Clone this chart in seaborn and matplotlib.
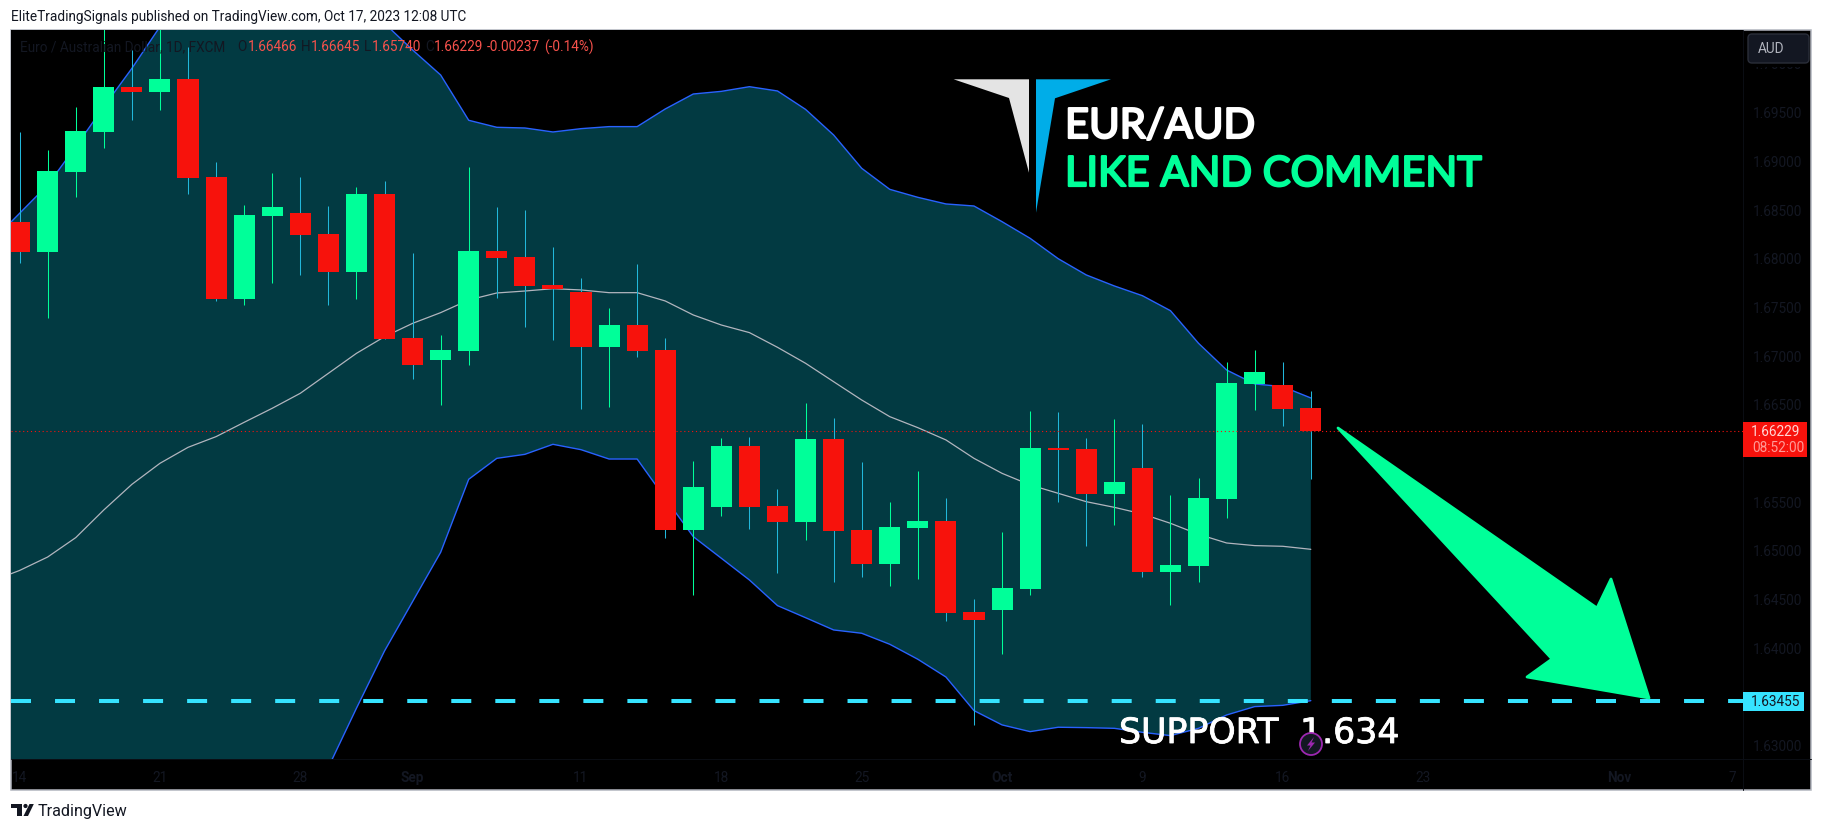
import numpy as np, pandas as pd
import matplotlib
matplotlib.use("Agg")
import matplotlib.pyplot as plt
import matplotlib.patheffects as pe
from matplotlib.patches import Polygon, Rectangle, FancyBboxPatch, Circle
from matplotlib.transforms import Affine2D
import seaborn as sns

sns.set_theme(style="dark")
plt.rcParams['font.family'] = ['Roboto', 'DejaVu Sans']
plt.rcParams['lines.scale_dashes'] = False

opens = [1.68378,1.68073,1.68891,1.69302,1.69764,1.69712,1.69846,1.68840,1.67587,1.68439,1.68470,1.68255,1.67864,1.68665,1.67187,1.66961,1.67053,1.68080,1.68018,1.67731,1.67659,1.67094,1.67320,1.67064,1.65216,1.65452,1.66078,1.65462,1.65298,1.66150,1.65216,1.64867,1.65236,1.65308,1.64374,1.64394,1.64610,1.66057,1.66047,1.65585,1.65852,1.64784,1.64846,1.65534,1.66715,1.66704,1.66466]
closes = [1.68073,1.68901,1.69312,1.69764,1.69712,1.69846,1.68829,1.67587,1.68450,1.68532,1.68244,1.67864,1.68665,1.67177,1.66910,1.67064,1.68080,1.68008,1.67721,1.67690,1.67094,1.67320,1.67053,1.65216,1.65657,1.66078,1.65452,1.65298,1.66150,1.65205,1.64867,1.65246,1.65308,1.64363,1.64292,1.64620,1.66057,1.66037,1.65585,1.65708,1.64784,1.64856,1.65544,1.66725,1.66838,1.66458,1.66229]
highs = [1.69302,1.69117,1.69558,1.70500,1.70144,1.70450,1.70178,1.68994,1.68552,1.68881,1.68840,1.68542,1.68737,1.68799,1.68059,1.67218,1.68942,1.68532,1.68501,1.68121,1.67803,1.67495,1.67947,1.67187,1.65924,1.66160,1.66170,1.65637,1.66519,1.66365,1.65914,1.65503,1.65821,1.65544,1.64507,1.65195,1.66437,1.66427,1.66160,1.66355,1.66304,1.65575,1.65749,1.66940,1.67064,1.66940,1.66645]
lows = [1.67957,1.67396,1.68634,1.69138,1.69425,1.69528,1.68665,1.67567,1.67526,1.67751,1.67834,1.67526,1.67587,1.67177,1.66766,1.66499,1.66910,1.67597,1.67300,1.67166,1.66461,1.66478,1.66992,1.65133,1.64548,1.65359,1.65226,1.64774,1.65113,1.64682,1.64733,1.64641,1.64712,1.64281,1.63214,1.63942,1.64548,1.65503,1.65051,1.65267,1.64733,1.64446,1.64682,1.65339,1.66448,1.66283,1.65740]

band_upper = [1.68176,1.68467,1.68758,1.69151,1.69562,1.69955,1.70383,1.70794,1.71033,1.71170,1.71239,1.71205,1.71102,1.70862,1.70417,1.70144,1.69887,1.69422,1.69350,1.69343,1.69302,1.69336,1.69357,1.69357,1.69538,1.69692,1.69719,1.69767,1.69723,1.69534,1.69271,1.68929,1.68713,1.68631,1.68563,1.68542,1.68381,1.68210,1.68001,1.67834,1.67721,1.67621,1.67467,1.67132,1.66858,1.66715,1.66687,1.66571]
band_mid = [1.64690,1.64800,1.64938,1.65137,1.65421,1.65684,1.65900,1.66064,1.66174,1.66321,1.66465,1.66619,1.66824,1.67029,1.67200,1.67337,1.67447,1.67577,1.67649,1.67669,1.67693,1.67680,1.67652,1.67652,1.67567,1.67423,1.67320,1.67242,1.67091,1.66927,1.66738,1.66550,1.66379,1.66266,1.66140,1.65951,1.65797,1.65678,1.65592,1.65506,1.65448,1.65380,1.65284,1.65171,1.65082,1.65055,1.65048,1.65017]
band_lower = [1.61262,1.61191,1.61118,1.61123,1.61280,1.61413,1.61417,1.61334,1.61315,1.61472,1.61691,1.62100,1.62779,1.63385,1.63973,1.64480,1.64986,1.65736,1.65951,1.65992,1.66095,1.66040,1.65944,1.65944,1.65541,1.65147,1.64925,1.64702,1.64439,1.64315,1.64189,1.64155,1.64042,1.63888,1.63706,1.63361,1.63214,1.63145,1.63190,1.63186,1.63179,1.63138,1.63104,1.63179,1.63316,1.63402,1.63415,1.63463]

time_pos = [0,5,10,14,20,25,30,35,40,45,50,57,61]
time_labels = ['14','21','28','Sep','11','18','25','Oct','9','16','23','Nov','7']
month_labels = ['Sep','Oct','Nov']
price_ticks = [1.63,1.64,1.645,1.65,1.655,1.665,1.67,1.675,1.68,1.685,1.69,1.695,1.70]
last_close = 1.66229
support = 1.63455

W, H = 1824, 830
fig = plt.figure(figsize=(W/100, H/100), dpi=100, facecolor='white')
pix = Affine2D().scale(1, -1).translate(0, H)

fig.add_artist(Rectangle((11, 30), 1800, 760, transform=pix, fc='black', ec='#B2B5BE', lw=1.1, zorder=-5))

ax = fig.add_axes([11/W, (H-759)/H, 1732/W, 729/H], facecolor='black')
ax.set_xlim((11-19.6)/28.07, (1743-19.6)/28.07)
ax.set_ylim(1.62864, 1.70349)
for s in ax.spines.values():
    s.set_visible(False)
ax.grid(False)

bx = np.arange(-1, 47)
bands = pd.DataFrame({'x': bx, 'upper': band_upper, 'mid': band_mid, 'lower': band_lower})
ax.fill_between(bands.x, bands.lower, bands.upper, color='#023A42', lw=0, zorder=1)
kw = dict(data=bands, x='x', ax=ax, estimator=None, errorbar=None, legend=False, zorder=2)
sns.lineplot(y='upper', color='#2962FF', lw=1.0, **kw)
sns.lineplot(y='lower', color='#2962FF', lw=1.0, **kw)
sns.lineplot(y='mid', color='#B2B5BE', lw=0.9, **kw)
ax.set_xlabel(''); ax.set_ylabel('')

cx = np.arange(len(opens))
o, c, h, l = map(np.array, (opens, closes, highs, lows))
up = c >= o
ax.vlines(cx[up], l[up], h[up], color='#00FF99', lw=0.75, zorder=3)
ax.vlines(cx[~up], l[~up], h[~up], color='#22B7DA', lw=0.75, zorder=3)
ax.bar(cx, np.abs(c-o), bottom=np.minimum(o, c), width=0.75,
       color=np.where(up, '#00FF99', '#F7120C'), lw=0, zorder=4)

ax.axhline(last_close, color='#F7120C', lw=0.8, ls=(0, (0.8, 2.0)), zorder=5)
ax.plot([ax.get_xlim()[0], ax.get_xlim()[1]], [support, support], color='#36E3FF', lw=2.9,
        ls=(0, (14.4, 17.3)), dash_capstyle='butt', zorder=6)

DIM = '#131722'
FS = 9.8
ax.set_xticks(time_pos)
ax.set_xticklabels(time_labels, fontsize=FS, color=DIM)
for t in ax.get_xticklabels():
    if t.get_text() in month_labels:
        t.set_fontweight('bold')
ax.tick_params(axis='x', length=0, pad=8.5)
ax.yaxis.tick_right()
ax.set_yticks(price_ticks)
ax.set_yticklabels([f'{p:.5f}' for p in price_ticks], fontsize=FS, color=DIM)
ax.tick_params(axis='y', length=0, pad=7.2)

fig.add_artist(plt.Line2D([11, 1811], [759, 759], transform=pix, color='#0b0e14', lw=0.7, zorder=-4))
fig.add_artist(plt.Line2D([1743, 1743], [30, 790], transform=pix, color='#0b0e14', lw=0.7, zorder=-4))

def txt(x, y, s, color='k', size=FS, stroke=0, **k):
    k.setdefault('va', 'center'); k.setdefault('ha', 'left')
    t = fig.text(x, y, s, transform=pix, color=color, fontsize=size, **k)
    if stroke:
        t.set_path_effects([pe.withStroke(linewidth=stroke, foreground=color)])
    return t

# Header & footer
txt(11, 17, 'EliteTradingSignals published on TradingView.com, Oct 17, 2023 12:08 UTC', color='#131722', zorder=20)
txt(38, 811, 'TradingView', color='#131722', size=11.6, zorder=20)
for pts in ([(11,804),(22,804),(22,816),(16.5,816),(16.5,808),(11,808)],
            [(29.5,804),(33.8,804),(28,816),(23.5,816)]):
    fig.add_artist(Polygon(pts, transform=pix, fc='#131722', lw=0, zorder=20))
fig.add_artist(Circle((25.5, 806), 2.1, transform=pix, fc='#131722', lw=0, zorder=20))

# Legend line
txt(20, 47, 'Euro / Australian Dollar, 1D, FXCM', color=DIM, zorder=20)
RED = '#F7524C'
for x, s, col in [(237,'O',DIM),(248,'1.66466',RED),(301,'H',DIM),(311,'1.66645',RED),
                  (364,'L',DIM),(372,'1.65740',RED),(425,'C',DIM),(434,'1.66229',RED),
                  (487,'-0.00237',RED),(544,'(-0.14%)',RED)]:
    txt(x, 47, s, color=col, zorder=20)

# AUD box
fig.add_artist(Rectangle((1745, 63), 64, 4, transform=pix, fc='black', lw=0, zorder=15))
fig.add_artist(FancyBboxPatch((1752, 38), 53, 21, boxstyle='round,pad=4', transform=pix, fc='#131722', ec='#2A2E39', lw=1.0, zorder=16))
txt(1758, 49, 'AUD', color='#B2B5BE', zorder=17)

# Price labels
fig.add_artist(Rectangle((1743, 422), 64, 35, transform=pix, fc='#F7120C', lw=0, zorder=15))
txt(1776, 432, '1.66229', color='#FFD5D3', ha='center', zorder=17)
txt(1778, 448, '08:52:00', color='#FF9A96', ha='center', zorder=17)
fig.add_artist(Rectangle((1743, 692), 61, 19, transform=pix, fc='#36E3FF', lw=0, zorder=15))
txt(1776, 702, '1.63455', color=DIM, ha='center', zorder=17)

# Logo
fig.add_artist(Polygon([(953.6,79.3),(1029,79.3),(1029,172.7),(1009,98)], transform=pix, fc='#E4E4E4', lw=0, zorder=12))
fig.add_artist(Polygon([(1036,79.3),(1111,79.3),(1055,98.3),(1036,212.7)], transform=pix, fc='#00ADE8', lw=0, zorder=12))
txt(1065, 138, 'EUR/AUD', color='white', size=30, stroke=1.6, family='Lato', va='baseline', zorder=12)
txt(1065, 186, 'LIKE AND COMMENT', color='#00FF99', size=30, stroke=1.6, family='Lato', va='baseline', zorder=12)

# Arrow
fig.add_artist(Polygon([(1338,428),(1597,608),(1611,579),(1649,698),(1527,677),(1552,659)], transform=pix,
                       fc='#00FF99', ec='#00FF99', lw=2, joinstyle='round', zorder=12))

# Support text
txt(1119, 743, 'SUPPORT', color='white', size=25, stroke=0.6, family='DejaVu Sans', va='baseline', zorder=11)
txt(1300, 743, '1.634', color='white', size=25, stroke=0.6, family='DejaVu Sans', va='baseline', zorder=11)

# Lightning badge
fig.add_artist(Circle((1311, 744), 11, transform=pix, fc='#131722', ec='#9C27B0', lw=1.3, zorder=18))
fig.add_artist(Polygon([(1314,737),(1307,745.5),(1310.5,745.5),(1308,751),(1315,742.5),(1311.5,742.5)], transform=pix, fc='#9C27B0', lw=0, zorder=19))

fig.savefig('out.png', dpi=100, facecolor='white')
